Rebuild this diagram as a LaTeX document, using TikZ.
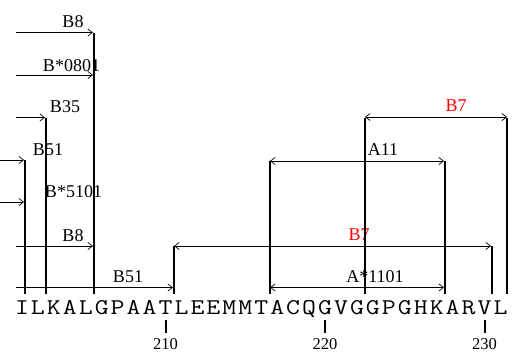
\documentclass[tikz,border=0pt]{standalone}
\usepackage{fontspec}
\setmainfont{Liberation Serif}
\newfontfamily\seqfont[FakeStretch=1.2]{Latin Modern Mono}
\usetikzlibrary{arrows.meta}
\begin{document}
\begin{tikzpicture}[x=1pt,y=-1pt,
  bar/.style={line width=2pt},
  tipR/.style={line width=0.7pt,-{Straight Barb[length=4.5pt,width=7pt]}},
  tipLR/.style={line width=0.7pt,{Straight Barb[length=4.5pt,width=7pt]}-{Straight Barb[length=4.5pt,width=7pt]}},
  lab/.style={font=\fontsize{18}{18}\selectfont, anchor=base, inner sep=0pt},
  redlab/.style={lab, text=red},
  seq/.style={font=\seqfont\fontsize{22.5}{22.5}\selectfont, anchor=base, inner sep=0pt},
  num/.style={font=\fontsize{16.5}{16.5}\selectfont, anchor=base, inner sep=0pt},
  tickmark/.style={line width=2pt}]
\useasboundingbox (0,0) rectangle (519,353);
% sequence
\foreach \c [count=\i] in {I,L,K,A,L,G,P,A,A,T,L,E,E,M,M,T,A,C,Q,G,V,G,G,P,G,H,K,A,R,V,L}
  \node[seq] (s\i) at ({22+(\i-1)*15.95},314) {\c};
% ticks and numbers
\foreach \n/\x in {210/165.5,220/325,230/484.5}{
  \coordinate (t\n a) at (\x,320);
  \coordinate (t\n b) at (\x,333);
  \draw[tickmark] (t\n a) -- (t\n b);
  \node[num] (n\n) at (\x,349.5) {\n};
}
% arrow end points
\coordinate (a1s) at (16,32.5);   \coordinate (a1e) at (93,32.5);
\coordinate (a2s) at (16,75);     \coordinate (a2e) at (93,75);
\coordinate (a3s) at (16,117.5);  \coordinate (a3e) at (45,117.5);
\coordinate (a4s) at (0,160);     \coordinate (a4e) at (24,160);
\coordinate (a5s) at (0,202);     \coordinate (a5e) at (24,202);
\coordinate (a6s) at (16,246);    \coordinate (a6e) at (93,246);
\coordinate (a7s) at (16,287.5);  \coordinate (a7e) at (173,287.5);
\coordinate (a8s) at (365,117);   \coordinate (a8e) at (507,117);
\coordinate (a9s) at (270,161);   \coordinate (a9e) at (444,161);
\coordinate (a10s) at (174,246);  \coordinate (a10e) at (491,246);
\coordinate (a11s) at (270,287.5);\coordinate (a11e) at (444,287.5);
\draw[tipR] (a1s) -- (a1e);
\draw[tipR] (a2s) -- (a2e);
\draw[tipR] (a3s) -- (a3e);
\draw[tipR] (a4s) -- (a4e);
\draw[tipR] (a5s) -- (a5e);
\draw[tipR] (a6s) -- (a6e);
\draw[tipR] (a7s) -- (a7e);
\draw[tipLR] (a8s) -- (a8e);
\draw[tipLR] (a9s) -- (a9e);
\draw[tipLR] (a10s) -- (a10e);
\draw[tipLR] (a11s) -- (a11e);
% labels
\node[lab] (l1) at (73,28) {B8};
\node[lab] (l2) at (71.5,71) {B*0801};
\node[lab] (l3) at (65,112) {B35};
\node[lab] (l4) at (48,155.5) {B51};
\node[lab] (l5) at (73.5,197) {B*5101};
\node[lab] (l6) at (73,241) {B8};
\node[lab] (l7) at (128,282) {B51};
\node[redlab] (l8) at (456,111.5) {B7};
\node[lab] (l9) at (383,155.7) {A11};
\node[redlab] (l10) at (359,240.7) {B7};
\node[lab] (l11) at (375,282.7) {A*1101};
% bars
\foreach \k/\x/\t in {1/25/160,2/46/118,3/94/33,4/174/246,5/270/161,6/365/118,7/445/161,8/492/246,9/507/118}{
  \coordinate (b\k t) at (\x,\t);
  \coordinate (b\k b) at (\x,294);
  \draw[bar] (b\k t) -- (b\k b);
}
\end{tikzpicture}
\end{document}
